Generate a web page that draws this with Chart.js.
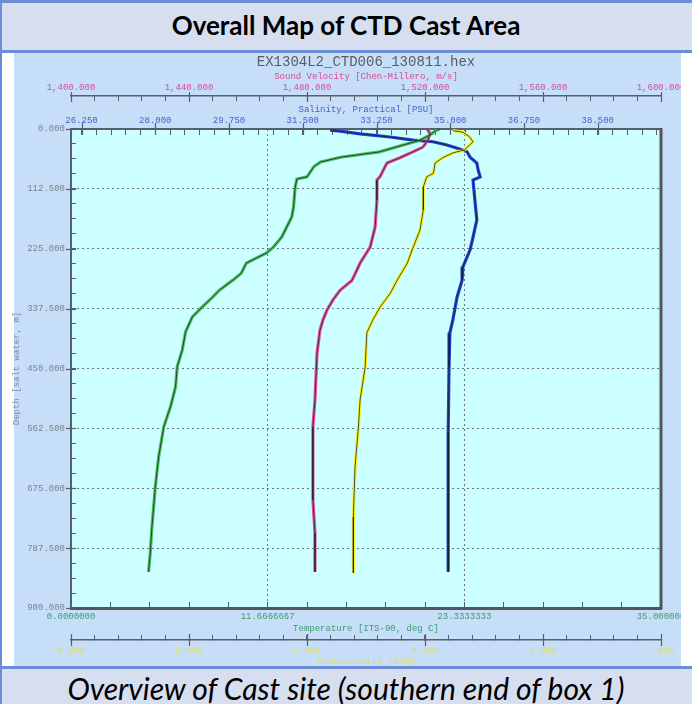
<!DOCTYPE html>
<html>
<head>
<meta charset="utf-8">
<script src="https://cdn.jsdelivr.net/npm/chart.js@4.4.0/dist/chart.umd.min.js"></script>
<style>
  html, body { margin: 0; padding: 0; background: #fff; }
  #page { position: relative; width: 692px; height: 704px; overflow: hidden; background: #fff; }
  #leftRule { position: absolute; left: 0; top: 0; width: 2px; height: 704px; background: #6C8CD5; z-index: 6; }
  #head {
    position: absolute; left: 0; top: 0; width: 692px; height: 47px;
    background: #D6DEF0; border-top: 3px solid #6C8CD5; border-bottom: 3px solid #6C8CD5;
    font: bold 26px Lato, sans-serif; color: #000; text-align: center; line-height: 45px; z-index: 5;
  }
  #plotBg { position: absolute; left: 14px; top: 53px; width: 667px; height: 613px; background: #C6DEF8; }
  #wrap { position: absolute; left: 0; top: 53px; width: 681px; height: 651px; overflow: hidden; z-index: 2; }
  #foot {
    position: absolute; left: 0; top: 666px; width: 692px; height: 35px;
    background: #D6DEF0; border-top: 3px solid #6C8CD5;
    font: italic 30px Lato, sans-serif; color: #000; text-align: center; line-height: 38px; z-index: 5;
  }
</style>
</head>
<body>
<div id="page">
  <div id="head">Overall Map of CTD Cast Area</div>
  <div id="plotBg"></div>
  <div id="wrap"><canvas id="ctd" width="681" height="651"></canvas></div>
  <div id="foot">Overview of Cast site (southern end of box 1)</div>
  <div id="leftRule"></div>
</div>
<script>
// ---- profile data (depth in m) ----
const tempDepth  = [0, 2, 13, 21, 32, 43, 53, 62, 71, 90, 94, 109, 147, 165, 184, 203, 222, 233, 252, 271, 284, 303, 316, 334, 353, 381, 415, 447, 485, 522, 560, 616, 673, 748, 797, 832];
const tempValues = [21.9, 21.7, 21.2, 20.7, 19.5, 18.3, 16.0, 14.8, 14.4, 14.0, 13.4, 13.3, 13.2, 13.1, 12.8, 12.5, 12.0, 11.6, 10.4, 10.1, 9.6, 8.8, 8.4, 7.8, 7.2, 6.8, 6.6, 6.3, 6.2, 5.9, 5.5, 5.2, 5.0, 4.8, 4.7, 4.6];

const svDepth  = [0, 8, 21, 34, 43, 54, 64, 90, 96, 133, 184, 222, 252, 284, 303, 321, 340, 359, 378, 421, 509, 560, 635, 697, 759, 832];
const svValues = [1520.7, 1521.7, 1521.0, 1519.3, 1515.9, 1511.5, 1507.1, 1504.7, 1503.7, 1503.7, 1503.1, 1501.4, 1498.0, 1495.3, 1491.2, 1488.8, 1486.8, 1485.4, 1484.4, 1483.4, 1482.7, 1482.0, 1482.0, 1482.0, 1482.7, 1482.7];

const condDepth  = [3, 6, 15, 24, 39, 45, 54, 64, 83, 90, 109, 152, 190, 222, 252, 284, 308, 334, 359, 383, 447, 509, 560, 635, 729, 804, 834];
const condValues = [4.53, 4.65, 4.73, 4.77, 4.67, 4.53, 4.41, 4.32, 4.30, 4.22, 4.18, 4.18, 4.14, 4.06, 3.99, 3.87, 3.79, 3.67, 3.58, 3.51, 3.49, 3.43, 3.41, 3.37, 3.35, 3.35, 3.35];

const salDepth  = [2, 4, 9, 15, 21, 24, 30, 39, 43, 53, 64, 77, 90, 96, 139, 171, 203, 227, 259, 284, 316, 359, 383, 447, 571, 697, 832];
const salValues = [32.15, 32.38, 32.86, 33.57, 34.12, 34.59, 34.92, 35.28, 35.40, 35.47, 35.63, 35.66, 35.71, 35.54, 35.59, 35.63, 35.54, 35.47, 35.30, 35.28, 35.16, 35.06, 34.99, 34.97, 34.95, 34.95, 34.95];

// ---- axis ticks ----
const depthMajors = [0, 112.5, 225, 337.5, 450, 562.5, 675, 787.5, 900];
const depthLabels = ['0.000', '112.500', '225.000', '337.500', '450.000', '562.500', '675.000', '787.500', '900.000'];
const tempMajors  = [0, 11.6666667, 23.3333333, 35];
const tempLabels  = ['0.0000000', '11.6666667', '23.3333333', '35.000000'];
const salMajors   = [26.25, 28, 29.75, 31.5, 33.25, 35, 36.75, 38.5];
const salLabels   = ['26.250', '28.000', '29.750', '31.500', '33.250', '35.000', '36.750', '38.500'];
const svMajors    = [1400, 1440, 1480, 1520, 1560, 1600];
const svLabels    = ['1,400.000', '1,440.000', '1,480.000', '1,520.000', '1,560.000', '1,600.000'];
const condMajors  = [0, 1.4, 2.8, 4.2, 5.6, 7];
const condLabels  = ['0.000', '1.400', '2.800', '4.200', '5.600', '7.000'];

const MONO = "'Liberation Mono', 'DejaVu Sans Mono', monospace";
const AXIS = '#56606A';

// major ticks + evenly spaced minor ticks between them
function tickList(majors, sub, min, max) {
  const step = (majors[1] - majors[0]) / sub;
  const list = [];
  let v = majors[0];
  while (v - step >= min - 1e-6) v -= step;
  for (; v <= max + 1e-6; v += step) {
    const major = majors.some(m => Math.abs(m - v) < step / 10);
    list.push({ value: v, major });
  }
  return list;
}
function labelFrom(majors, labels) {
  return (value, i, ticks) => {
    if (!ticks[i].major) return '';
    const k = majors.findIndex(m => Math.abs(m - value) < 1e-4);
    return k < 0 ? '' : labels[k];
  };
}
function series(depths, values) {
  return depths.map((d, i) => ({ x: values[i], y: d }));
}

function xAxis(o) {
  return {
    type: 'linear', position: o.pos, weight: o.weight, min: o.min, max: o.max, bounds: 'data',
    afterBuildTicks: s => { s.ticks = tickList(o.majors, 5, o.min, o.max); },
    afterFit: s => { s.height = o.height; s.paddingLeft = 0; s.paddingRight = 0; },
    ticks: {
      autoSkip: false, maxRotation: 0, minRotation: 0, padding: o.tickPad,
      color: o.color, font: { family: MONO, size: 9 },
      callback: labelFrom(o.majors, o.labels)
    },
    grid: {
      drawOnChartArea: !!o.gridOn, tickLength: o.tickLen,
      color: c => (o.gridOn && c.tick && c.tick.major) ? '#6E767C' : 'rgba(0,0,0,0)',
      tickColor: AXIS, tickWidth: 1
    },
    border: { display: true, color: o.borderColor || AXIS, width: o.borderWidth, dash: [2, 3] },
    title: {
      display: true, text: o.title, color: o.color,
      font: { family: MONO, size: 9 }, padding: o.titlePad
    }
  };
}

// cyan plot area, right frame line and the longer major ticks
const frameMarks = {
  id: 'frameMarks',
  beforeDraw(chart) {
    const { ctx, chartArea: a } = chart;
    ctx.save();
    ctx.fillStyle = '#CCFFFF';
    ctx.fillRect(a.left, a.top, a.right - a.left, a.bottom - a.top);
    ctx.restore();
  },
  afterDraw(chart) {
    const { ctx, chartArea: a, scales } = chart;
    ctx.save();
    ctx.strokeStyle = '#4E575E';
    ctx.lineWidth = 3;
    ctx.beginPath();
    ctx.moveTo(a.right, a.top - 1);
    ctx.lineTo(a.right, a.bottom + 1);
    ctx.stroke();
    ctx.strokeStyle = AXIS;
    ctx.lineWidth = 1.2;
    const marks = [
      { id: 'xV', edge: s => s.bottom, up: 4, down: 6 },
      { id: 'xS', edge: s => s.bottom, up: 6, down: 6 },
      { id: 'xC', edge: s => s.top, up: 6, down: 6 }
    ];
    marks.forEach(m => {
      const s = scales[m.id];
      const y0 = m.edge(s);
      s.ticks.forEach(t => {
        if (!t.major) return;
        const x = Math.round(s.getPixelForValue(t.value)) + 0.5;
        ctx.beginPath();
        ctx.moveTo(x, y0 - m.up);
        ctx.lineTo(x, y0 + m.down);
        ctx.stroke();
      });
    });
    const y = scales.y;
    y.ticks.forEach(t => {
      if (!t.major) return;
      const py = Math.round(y.getPixelForValue(t.value)) + 0.5;
      ctx.beginPath();
      ctx.moveTo(y.right - 5, py);
      ctx.lineTo(y.right + 5, py);
      ctx.stroke();
    });
    ctx.restore();
  }
};

// each profile: coloured trace with the dark companion trace drawn over it
function profile(label, data, axisId, color) {
  return [
    { label, data, xAxisID: axisId, yAxisID: 'y', showLine: true, pointRadius: 0, order: 2,
      borderColor: color, borderWidth: 3.2, tension: 0, fill: false },
    { label: label + ' (2)', data, xAxisID: axisId, yAxisID: 'y', showLine: true, pointRadius: 0, order: 1,
      borderColor: 'rgba(20,30,30,0.75)', borderWidth: 1, tension: 0, fill: false }
  ];
}

new Chart(document.getElementById('ctd'), {
  type: 'scatter',
  data: {
    datasets: [
      ...profile('Temperature', series(tempDepth, tempValues), 'xT', '#4CC060'),
      ...profile('Sound Velocity', series(svDepth, svValues), 'xV', '#E4509C'),
      ...profile('Conductivity', series(condDepth, condValues), 'xC', '#F2F030'),
      ...profile('Salinity', series(salDepth, salValues), 'xS', '#2442D8')
    ]
  },
  options: {
    responsive: false,
    animation: false,
    layout: { padding: { top: 0, left: 0, right: 20, bottom: 31 } },
    plugins: {
      legend: { display: false },
      tooltip: { enabled: false },
      title: {
        display: true, text: 'EX1304L2_CTD006_130811.hex', fullSize: false,
        color: '#5C5C5C', font: { family: MONO, size: 14, weight: 'normal', lineHeight: 1.2 },
        padding: { top: 0.6, bottom: 0 }
      }
    },
    scales: {
      xS: xAxis({ pos: 'top', weight: 0, min: 26, max: 40, majors: salMajors, labels: salLabels,
        height: 33, tickPad: 8.6, tickLen: -6, color: '#4B61C9', borderWidth: 2,
        title: 'Salinity, Practical [PSU]', titlePad: { top: 8.6, bottom: 0 } }),
      xV: xAxis({ pos: 'top', weight: 1, min: 1400, max: 1600, majors: svMajors, labels: svLabels,
        height: 25.6, tickPad: 7.6, tickLen: -5, color: '#D94C96', borderWidth: 1.5,
        title: 'Sound Velocity [Chen-Millero, m/s]', titlePad: { top: 1.2, bottom: 0 } }),
      xT: xAxis({ pos: 'bottom', weight: 0, min: 0, max: 35, majors: tempMajors, labels: tempLabels,
        height: 32, tickPad: 9.6, tickLen: -6, color: '#3E9C72', borderWidth: 3, borderColor: '#4E575E',
        gridOn: true, title: 'Temperature [ITS-90, deg C]', titlePad: { top: 0, bottom: 5.6 } }),
      xC: xAxis({ pos: 'bottom', weight: 1, min: 0, max: 7, majors: condMajors, labels: condLabels,
        height: 33, tickPad: 10.6, tickLen: -5, color: '#E2E05A', borderWidth: 1.5,
        title: 'Conductivity [S/m]', titlePad: { top: 0, bottom: 5.6 } }),
      y: {
        type: 'linear', position: 'left', reverse: true, min: 0, max: 900, bounds: 'data',
        afterBuildTicks: s => { s.ticks = tickList(depthMajors, 4, 0, 900); },
        afterFit: s => { s.width = 71; s.paddingTop = 0; s.paddingBottom = 0; },
        ticks: {
          autoSkip: false, padding: 11, color: '#7B8490', font: { family: MONO, size: 9 },
          callback: labelFrom(depthMajors, depthLabels)
        },
        grid: {
          drawOnChartArea: true, tickLength: -5,
          color: c => (c.tick && c.tick.major) ? '#6E767C' : 'rgba(0,0,0,0)',
          tickColor: AXIS, tickWidth: 1
        },
        border: { display: true, color: AXIS, width: 2, dash: [2, 3] },
        title: {
          display: true, text: 'Depth [salt water, m]', color: '#7F8CA6',
          font: { family: MONO, size: 9 }, padding: { top: 11.6, bottom: 0 }
        }
      }
    }
  },
  plugins: [frameMarks]
});
</script>
</body>
</html>
